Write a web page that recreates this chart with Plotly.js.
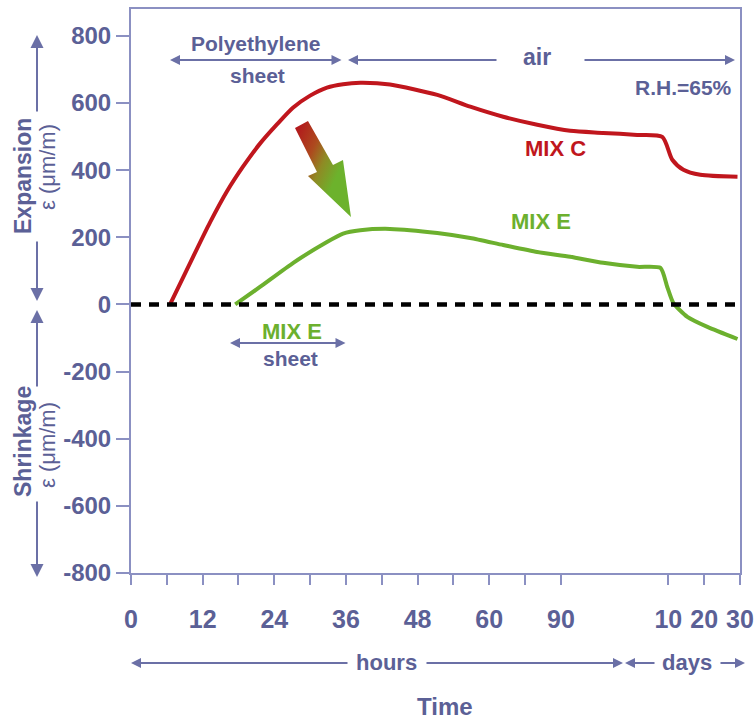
<!DOCTYPE html>
<html><head><meta charset="utf-8">
<script src="https://cdn.plot.ly/plotly-3.0.1.min.js"></script>
<style>html,body{margin:0;padding:0;background:#fff}</style>
</head><body>
<div id="chart" style="width:755px;height:720px"></div>
<script>
// ---- data (x = position on the broken time axis: 1 unit = one minor tick) ----
const xTickPos  = [0,1,2,3,4,5,6,7,8,9,10,11,12,15,16,17];
const xTickText = ['0','','12','','24','','36','','48','','60','','90','10','20','30'];
const yTickVals = [-800,-600,-400,-200,0,200,400,600,800];
const yTickText = ['-800','-600','-400','-200','0','200','400','600','800'];

const mixC_pos    = [1.09,1.73,2.21,2.68,3.13,3.60,4.08,4.52,5.0,5.47,5.92,6.40,7.23,8.55,9.47,10.39,11.34,12.26,13.18,14.13,14.83,15.11,15.42,15.89,16.93];
const mixC_strain = [0,141,245,337,411,479,537,586,622,646,656,660,655,624,589,559,535,517,511,505,499,431,401,386,380];

const mixE_pos    = [2.91,3.60,4.53,5.47,5.92,6.40,7.23,8.55,9.47,10.39,11.34,12.26,13.18,14.13,14.78,14.97,15.14,15.53,16.09,16.93];
const mixE_strain = [0,52,124,186,211,221,225,213,198,177,156,142,124,112,109,52,4,-37,-67,-103];

// ---- styling ----
const TXT = '#5b6096', LINE = '#8b90c2', ARW = '#6b70a6';
const RED = '#c0161d', GREEN = '#6cb02e';
const FAM = 'Liberation Sans, Arial, sans-serif';
const L = 131, R = 740, T = 9, B = 573;
function px(x){ return (x - L) / (R - L); }
function py(y){ return (B - y) / (B - T); }

function txt(text, x, y, o){
  o = o || {};
  return {xref:'paper', yref:'paper', x:px(x), y:py(y), text:text, showarrow:false,
    xanchor:o.xanchor||'center', yanchor:'middle', textangle:o.angle||0,
    font:{family:FAM, size:o.size||21, color:o.color||TXT, weight:o.weight||'bold'}};
}
function arr(hx, hy, tx, ty, both, size){
  size = size || 1;
  return {xref:'paper', yref:'paper', x:px(hx), y:py(hy), axref:'pixel', ayref:'pixel',
    ax:tx-hx, ay:ty-hy, text:'', showarrow:true, arrowhead:2, arrowsize:size, arrowwidth:2,
    startarrowhead:2, startarrowsize:size, arrowcolor:ARW,
    arrowside: both ? 'end+start' : 'end', standoff:0, startstandoff:0};
}

const annotations = [
  txt('Polyethylene', 256, 43),
  txt('sheet', 257, 76),
  arr(170, 60, 343, 60, true),
  txt('air', 537, 57, {size:23}),
  arr(348, 60, 498, 60),
  arr(735, 60, 583, 60),
  txt('R.H.=65%', 734, 87, {xanchor:'right'}),
  txt('MIX C', 555, 148, {color:RED, size:22}),
  txt('MIX E', 541, 221, {color:GREEN, size:22}),
  txt('MIX E', 292, 331, {color:GREEN, size:22}),
  txt('sheet', 290, 358),
  arr(230, 343, 347, 343, true),
  txt('Expansion', 23, 176, {angle:-90, size:23}),
  txt('\u03b5 (\u03bcm/m)', 47, 167, {angle:-90, size:22, weight:'normal'}),
  arr(37, 35, 37, 113, false, 1.3),
  arr(37, 301, 37, 240, false, 1.3),
  txt('Shrinkage', 23, 442, {angle:-90, size:23}),
  txt('\u03b5 (\u03bcm/m)', 47, 445, {angle:-90, size:22, weight:'normal'}),
  arr(37, 310, 37, 388, false, 1.3),
  arr(37, 577, 37, 500, false, 1.3),
  txt('hours', 386, 662, {size:22}),
  arr(131, 663, 349, 663),
  arr(623, 663, 425, 663),
  txt('days', 687, 662, {size:22}),
  arr(625, 663, 656, 663),
  arr(745, 663, 719, 663),
  txt('Time', 445, 706, {size:24})
];

// gradient arrow outline (decoration, pixel geometry)
const arrowPts = [[295,128],[308,121],[333,165],[343,160],[351,217],[308,176],[317,172]];
const arrowPath = 'M' + arrowPts.map(p => px(p[0]).toFixed(4) + ',' + py(p[1]).toFixed(4)).join(' L') + ' Z';

const shapes = [
  {type:'line', xref:'x', yref:'y', x0:0, x1:17, y0:0, y1:0,
   line:{color:'#000', width:4.5, dash:'10px,8px'}, layer:'above'},
  {type:'path', xref:'paper', yref:'paper', path:arrowPath,
   fillcolor:'rgb(1,2,3)', line:{width:0}, layer:'above'}
];

const traces = [
  {x:mixC_pos, y:mixC_strain, type:'scatter', mode:'lines', name:'MIX C',
   line:{color:RED, width:4, shape:'spline', smoothing:0.7}},
  {x:mixE_pos, y:mixE_strain, type:'scatter', mode:'lines', name:'MIX E',
   line:{color:GREEN, width:4, shape:'spline', smoothing:0.6}}
];

const layout = {
  width:755, height:720, showlegend:false,
  margin:{l:L, r:755-R, t:T, b:720-B, pad:0},
  paper_bgcolor:'#ffffff', plot_bgcolor:'#ffffff',
  xaxis:{range:[0,17], tickmode:'array', tickvals:xTickPos, ticktext:xTickText,
    ticks:'outside', ticklen:10, tickwidth:2, tickcolor:LINE,
    showline:true, linecolor:LINE, linewidth:2, mirror:true,
    showgrid:false, zeroline:false, ticklabelstandoff:13,
    tickfont:{family:FAM, size:25, color:TXT, weight:'bold'}},
  yaxis:{range:[-800,880], tickmode:'array', tickvals:yTickVals, ticktext:yTickText,
    ticks:'outside', ticklen:13, tickwidth:2, tickcolor:LINE,
    showline:true, linecolor:LINE, linewidth:2, mirror:true,
    showgrid:false, zeroline:false,
    tickfont:{family:FAM, size:24, color:TXT, weight:'bold'}},
  annotations:annotations, shapes:shapes
};

Plotly.newPlot('chart', traces, layout, {staticPlot:true}).then(function(){
  const NS = 'http://www.w3.org/2000/svg';
  const svg = document.querySelector('#chart .main-svg');
  let defs = svg.querySelector('defs');
  if (!defs){ defs = document.createElementNS(NS,'defs'); svg.insertBefore(defs, svg.firstChild); }
  const g = document.createElementNS(NS,'linearGradient');
  g.setAttribute('id','arrowGrad');
  g.setAttribute('x1','0'); g.setAttribute('y1','0.05');
  g.setAttribute('x2','0.9'); g.setAttribute('y2','0.75');
  [['0','#b3121c'],['0.35','#ad4a1e'],['0.55','#8f8a24'],['0.8','#6cb22c'],['1','#6cb22c']].forEach(function(s){
    const st = document.createElementNS(NS,'stop');
    st.setAttribute('offset', s[0]); st.setAttribute('stop-color', s[1]);
    g.appendChild(st);
  });
  defs.appendChild(g);
  document.querySelectorAll('#chart path').forEach(function(p){
    const f = (p.style.fill || '').replace(/\s/g,'');
    if (f === 'rgb(1,2,3)') p.style.fill = 'url(#arrowGrad)';
  });
});
</script>
</body></html>
